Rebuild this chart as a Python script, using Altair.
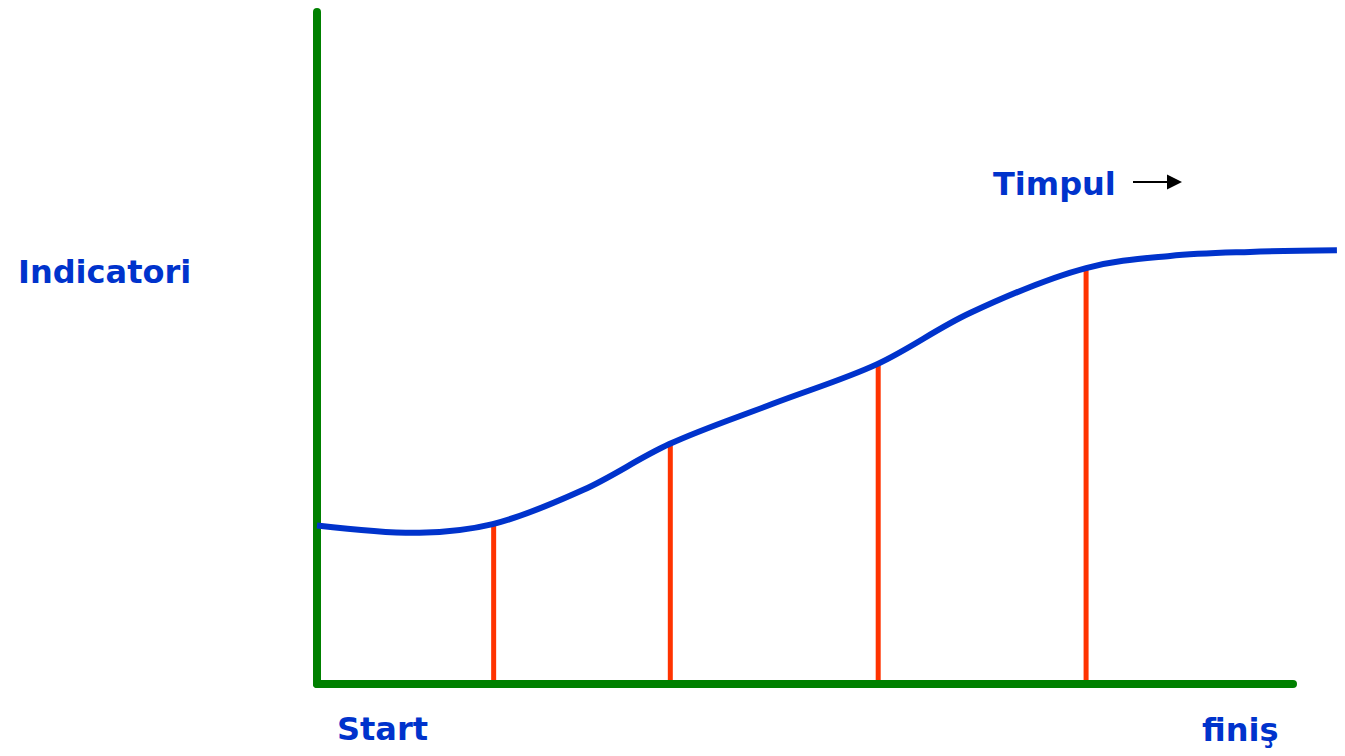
import altair as alt
import pandas as pd

# Curve: time (0 = start, 100 = finish) vs indicator value (0..100 of axis height)
curve_t = [0, 10.5, 18.0, 27.3, 36.1, 46.7, 57.4, 66.9, 78.8, 87.4, 95.6, 104.5]
curve_v = [23.6, 22.5, 23.8, 28.9, 35.7, 41.7, 47.6, 55.2, 61.9, 63.7, 64.3, 64.55]

# Red measuring lines (time, value where they meet the curve)
mark_t = [18.1, 36.2, 57.5, 78.8]
mark_v = [23.9, 35.8, 47.6, 61.9]

# Axis extents
axis_min = 0
axis_max = 100

BLUE = "#0033cc"
GREEN = "#008000"
RED = "#ff3300"
FONT = "DejaVu Sans"

xs = alt.Scale(domain=[0, 100], range=[309, 1285])
ys = alt.Scale(domain=[0, 100], range=[676, 4])

curve_df = pd.DataFrame({"t": curve_t, "v": curve_v})
marks_df = pd.DataFrame({"t": mark_t, "v": mark_v, "z": [axis_min] * len(mark_t)})
vaxis_df = pd.DataFrame({"x": [axis_min], "y": [axis_min], "y2": [axis_max]})
haxis_df = pd.DataFrame({"x": [axis_min], "x2": [axis_max], "y": [axis_min]})

red = alt.Chart(marks_df).mark_rule(color=RED, strokeWidth=5).encode(
    x=alt.X("t:Q", scale=xs, axis=None),
    y=alt.Y("z:Q", scale=ys, axis=None),
    y2="v:Q",
)

vaxis = alt.Chart(vaxis_df).mark_rule(color=GREEN, strokeWidth=8, strokeCap="round").encode(
    x=alt.X("x:Q", scale=xs, axis=None),
    y=alt.Y("y:Q", scale=ys, axis=None),
    y2="y2:Q",
)
haxis = alt.Chart(haxis_df).mark_rule(color=GREEN, strokeWidth=8, strokeCap="round").encode(
    x=alt.X("x:Q", scale=xs, axis=None),
    x2="x2:Q",
    y=alt.Y("y:Q", scale=ys, axis=None),
)

line = alt.Chart(curve_df).mark_line(color=BLUE, strokeWidth=6, interpolate="catmull-rom").encode(
    x=alt.X("t:Q", scale=xs, axis=None),
    y=alt.Y("v:Q", scale=ys, axis=None),
)

def label(text, x, y):
    return alt.Chart(pd.DataFrame({"label": [text]})).mark_text(
        font=FONT, fontSize=32, fontWeight="bold", color=BLUE,
        align="left", baseline="alphabetic",
    ).encode(text="label:N", x=alt.value(x), y=alt.value(y))

labels = (
    label("Indicatori", 10, 275)
    + label("Timpul", 985, 187)
    + label("Start", 329, 732)
    + label("finiş", 1194, 733)
)

arrow_line = alt.Chart(pd.DataFrame({"a": [1]})).mark_rule(color="black", strokeWidth=2).encode(
    x=alt.value(1125), x2=alt.value(1162), y=alt.value(174)
)
arrow_head = alt.Chart(pd.DataFrame({"a": [1]})).mark_point(
    shape="M -1 -1 L 1 0 L -1 1 Z", size=225, filled=True, color="black", opacity=1
).encode(x=alt.value(1166.5), y=alt.value(174))

chart = alt.layer(red, vaxis, haxis, line, labels, arrow_line, arrow_head).properties(
    width=1329, height=740, padding=0,
    autosize=alt.AutoSizeParams(type="none"),
).configure_view(stroke=None)

chart.save("out.html", embed_options={"renderer": "svg", "actions": False})
